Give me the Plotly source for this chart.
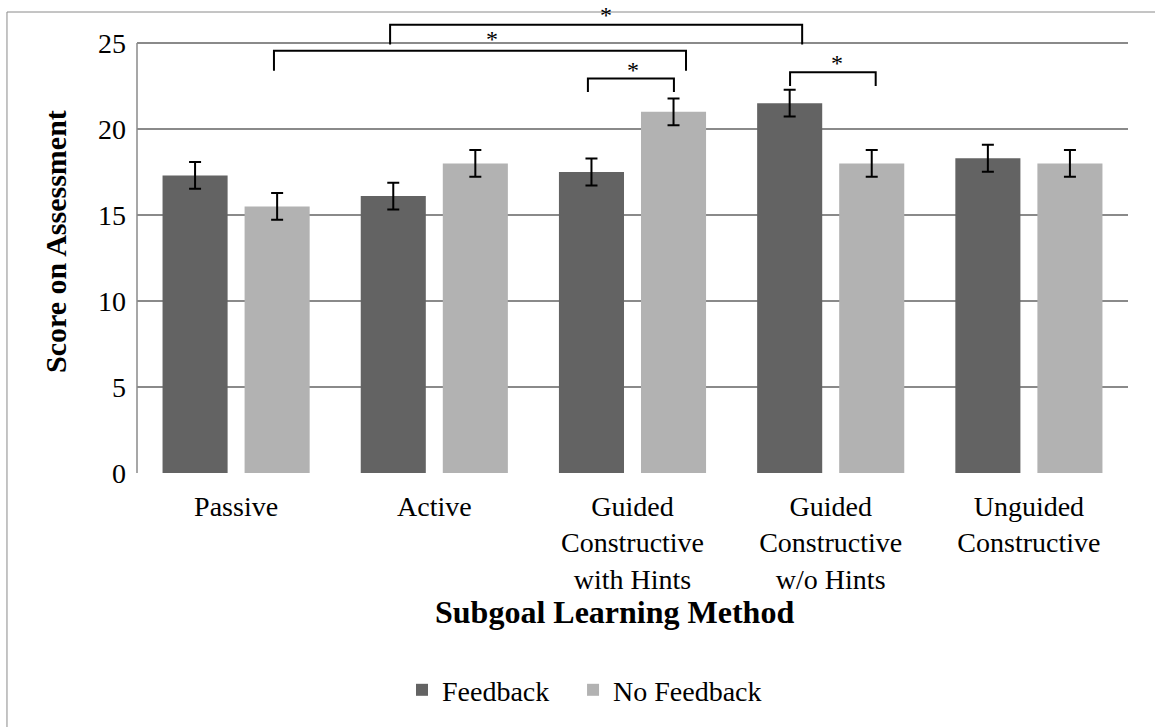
import plotly.graph_objects as go

# Scores by subgoal learning method
methods = ["Passive", "Active", "Guided<br>Constructive<br>with Hints",
           "Guided<br>Constructive<br>w/o Hints", "Unguided<br>Constructive"]
feedback = [17.3, 16.1, 17.5, 21.5, 18.3]
no_feedback = [15.5, 18.0, 21.0, 18.0, 18.0]
feedback_err = [0.78, 0.78, 0.78, 0.78, 0.78]
no_feedback_err = [0.78, 0.78, 0.78, 0.78, 0.78]
y_ticks = [0, 5, 10, 15, 20, 25]

# Significance brackets: (left x, right x, bar height, leg bottom)
brackets = [
    (0.777, 2.856, 26.06, 24.92),
    (0.191, 2.270, 24.55, 23.39),
    (1.775, 2.209, 22.94, 22.15),
    (2.795, 3.227, 23.30, 22.50),
]
# Star markers: (x, y)
stars = [(1.864, 26.82), (1.291, 25.38), (2.0, 23.62), (3.03, 24.02)]

FONT = "Liberation Serif"
GRID = "#8a8a8a"
pos = list(range(len(methods)))

fig = go.Figure()
fig.add_trace(go.Bar(
    x=pos, y=feedback, name="Feedback", legend="legend",
    marker=dict(color="#636363", line=dict(width=0)),
    error_y=dict(type="data", array=feedback_err, color="black",
                 thickness=2, width=6),
))
fig.add_trace(go.Bar(
    x=pos, y=no_feedback, name="No Feedback", legend="legend2",
    marker=dict(color="#b2b2b2", line=dict(width=0)),
    error_y=dict(type="data", array=no_feedback_err, color="black",
                 thickness=2, width=6),
))

shapes = []
# left axis line, from 0 up to 25
shapes.append(dict(type="line", xref="paper", yref="y", x0=0, x1=0,
                   y0=0, y1=25, line=dict(color=GRID, width=1.5)))
# frame lines (top and left)
shapes.append(dict(type="line", xref="paper", yref="paper",
                   x0=-0.1312, x1=1.1, y0=0.9746, y1=0.9746,
                   line=dict(color="#8a8a8a", width=1)))
shapes.append(dict(type="line", xref="paper", yref="paper",
                   x0=-0.1312, x1=-0.1312, y0=0.9746, y1=-0.6,
                   line=dict(color="#8a8a8a", width=1)))
for x0, x1, yb, yl in brackets:
    shapes.append(dict(
        type="path", xref="x", yref="y",
        path=f"M {x0},{yl} L {x0},{yb} L {x1},{yb} L {x1},{yl}",
        line=dict(color="black", width=2),
    ))

annotations = []
for sx, sy in stars:
    annotations.append(dict(x=sx, y=sy, xref="x", yref="y", text="*",
                            showarrow=False, yshift=-3, borderpad=0,
                            font=dict(family=FONT, size=24, color="black")))
annotations.append(dict(
    text="<b>Score on Assessment</b>", textangle=-90, showarrow=False,
    xref="paper", yref="paper", x=-0.083, y=0.49,
    xanchor="center", yanchor="middle",
    font=dict(family=FONT, size=30, color="black")))
annotations.append(dict(
    text="<b>Subgoal Learning Method</b>", showarrow=False,
    xref="paper", yref="paper", x=0.482, y=-0.294,
    xanchor="center", yanchor="middle",
    font=dict(family=FONT, size=32, color="black")))

legend_style = dict(orientation="h", yanchor="middle", xanchor="left",
                    y=-0.459, font=dict(family=FONT, size=28, color="black"),
                    bgcolor="rgba(0,0,0,0)")

fig.update_layout(
    width=1155, height=727,
    margin=dict(l=137, r=27, t=0, b=254, autoexpand=False),
    paper_bgcolor="white", plot_bgcolor="white",
    barmode="group", bargap=0.172, bargroupgap=0.207,
    font=dict(family=FONT, size=28, color="black"),
    showlegend=True,
    legend=dict(x=0.2674, **legend_style),
    legend2=dict(x=0.440, **legend_style),
    shapes=shapes, annotations=annotations,
)
fig.update_xaxes(
    range=[-0.5, 4.5], tickmode="array", tickvals=pos, ticktext=methods,
    showgrid=False, zeroline=False, showline=False, ticks="",
    ticklabelstandoff=14,
    tickfont=dict(family=FONT, size=28, color="black"),
)
fig.update_yaxes(
    range=[0, 27.5], tickmode="array", tickvals=y_ticks,
    showgrid=True, gridcolor=GRID, gridwidth=1.5, zeroline=False,
    showline=False, ticks="", ticklabelstandoff=10,
    tickfont=dict(family=FONT, size=28, color="black"),
)

fig.write_html("out.html")
